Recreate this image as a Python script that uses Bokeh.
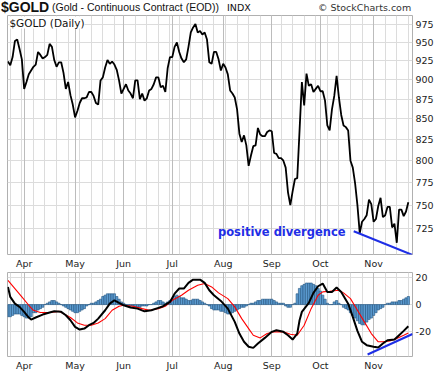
import numpy as np
import pandas as pd
from pandas.tseries.offsets import CustomBusinessDay
from bokeh.plotting import figure
from bokeh.models import Range1d, FixedTicker, Grid, Label, Div, PrintfTickFormatter
from bokeh.layouts import column
from bokeh.embed import file_html
from bokeh.resources import INLINE

# ---------------- data ----------------
close = [924, 919, 930, 952, 954, 941, 927, 888, 897, 907,
         912, 917, 920, 937, 933, 928, 930, 933, 948, 944,
         926, 917, 923, 923, 909, 888, 897, 880, 868, 852,
         860, 870, 876, 876, 877, 884, 884, 879, 870, 868,
         899, 903, 916, 926, 921, 924, 920, 913, 899, 882,
         888, 894, 886, 882, 876, 899, 899, 875, 882, 873,
         876, 886, 888, 894, 903, 903, 890, 892, 884, 915,
         930, 930, 944, 950, 937, 928, 923, 927, 944, 964,
         971, 976, 964, 966, 961, 964, 954, 923, 921, 937,
         937, 927, 912, 921, 916, 907, 886, 882, 877, 862,
         832, 822, 830, 818, 794, 806, 817, 818, 839, 831,
         829, 829, 834, 836, 835, 809, 808, 803, 803, 800,
         792, 764, 750, 765, 779, 780, 836, 897, 867, 908,
         892, 894, 884, 888, 892, 885, 885, 873, 842, 836,
         862, 879, 905, 877, 855, 842, 840, 836, 800, 792,
         774, 750, 720, 732, 735, 739, 756, 751, 732, 735,
         749, 758, 737, 739, 748, 748, 726, 730, 710, 745,
         745, 738, 743, 753]

macd_day = [0, 1, 3, 5, 7, 9, 10, 12, 15, 18,
            20, 23, 25, 27, 29, 31, 33, 35, 37, 39,
            42, 44, 46, 48, 50, 53, 56, 59, 62, 65,
            67, 70, 72, 74, 76, 78, 80, 83, 85, 87,
            89, 92, 95, 98, 100, 102, 104, 106, 108, 111,
            114, 116, 119, 121, 123, 125, 126, 127, 130, 132,
            134, 136, 138, 140, 142, 144, 147, 149, 151, 153,
            155, 158, 160, 162, 164, 167, 169, 171, 173]
macd = [13.1, 5.7, 0.7, -1.7, -5.4, -9.6, -11.1, -9.6, -7.4, -5.9,
        -5.0, -5.4, -7.9, -11.6, -16.5, -18.5, -17.8, -15.3, -13.6, -10.4,
        -4.2, 0.7, 3.2, 1.3, -0.5, -2.2, -3.0, -5.0, -4.2, -2.4,
        -1.2, 2.0, 8.1, 11.9, 11.9, 16.1, 18.5, 18.5, 16.1, 10.6,
        6.9, 2.7, -3.0, -12.8, -21.5, -27.6, -31.3, -32.1, -28.9, -24.7,
        -20.2, -19.0, -20.2, -22.7, -25.9, -21.5, -11.6, -5.4, 1.3, 8.7,
        13.6, 15.6, 9.4, 9.4, 12.6, 9.4, 0.7, -9.1, -19.5, -27.6,
        -30.1, -31.3, -31.9, -28.9, -26.4, -25.9, -22.7, -19.5, -16.1]

signal_day = [0, 3, 6, 9, 11, 14, 18, 22, 24, 27,
              30, 33, 36, 39, 42, 45, 48, 50, 54, 58,
              61, 65, 68, 71, 75, 78, 82, 85, 88, 91,
              95, 98, 101, 104, 106, 109, 112, 115, 119, 122,
              125, 128, 131, 134, 136, 139, 143, 145, 148, 151,
              154, 157, 160, 162, 165, 168, 171, 173]
signal = [18.0, 11.9, 5.7, -0.5, -4.2, -5.9, -5.9, -5.0, -6.7, -9.6,
          -13.6, -15.3, -15.3, -13.6, -10.4, -4.2, -1.2, -0.5, -1.2, -3.0,
          -4.2, -3.0, -1.2, 3.2, 6.9, 10.6, 14.3, 15.6, 13.1, 8.7,
          4.4, -1.7, -10.4, -17.8, -22.7, -24.7, -21.5, -20.2, -20.2, -22.0,
          -22.7, -15.3, -3.0, 6.9, 9.4, 9.9, 10.6, 8.7, 4.4, -4.2,
          -12.8, -21.5, -27.6, -27.6, -26.9, -25.2, -22.7, -21.0]

hist = [-9, -9, -8, -7, -7, -7, -8, -9, -10, -10,
        -9, -6, -6, -4, -3, -2, 0, 1, 2, 3,
        3, 2, 1, 0, -1, -2, -3, -4, -5, -6,
        -6, -5, -4, -3, -1, 0, 1, 1, 2, 3,
        4, 6, 7, 8, 8, 8, 8, 6, 4, 2,
        1, 0, -1, -1, -1, -2, -2, -2, -1, -1,
        -1, 0, 0, 1, 2, 3, 3, 2, 1, 2,
        3, 4, 6, 7, 6, 5, 5, 4, 3, 3,
        4, 4, 4, 3, 2, 1, 0, -1, -3, -4,
        -4, -4, -5, -5, -6, -7, -7, -6, -5, -4,
        -3, -2, -2, -1, 0, 1, 1, 2, 3, 3,
        4, 4, 4, 4, 4, 3, 2, 1, 1, 1,
        -1, -2, -2, 0, 1, 8, 12, 14, 15, 16,
        16, 16, 15, 14, 12, 10, 7, 4, 1, 0,
        0, 2, 3, 1, 0, -2, -3, -4, -6, -8,
        -10, -12, -14, -15, -15, -13, -11, -10, -8, -6,
        -4, -3, -2, 0, 1, 1, 2, 2, 2, 3,
        3, 4, 5, 6]

price_div_day = [149.4, 174.8]
price_div = [722, 697.5]
macd_div_day = [155.4, 174.8]
macd_div = [-37.0, -21.8]

price_ticks = [725, 750, 775, 800, 825, 850, 875, 900, 925, 950, 975]
macd_ticks = [-20, 0, 20]
month_labels = ["Apr", "May", "Jun", "Jul", "Aug", "Sep", "Oct", "Nov"]
holidays = ["2008-03-21", "2008-05-26", "2008-07-04", "2008-09-01"]

# ---------------- calendar -> tick positions ----------------
dates = pd.date_range("2008-03-20", periods=len(close),
                      freq=CustomBusinessDay(holidays=holidays))
day = np.arange(len(close))
month_pos = [i for i in range(1, len(dates)) if dates[i].month != dates[i - 1].month]
week_pos = [i for i in range(1, len(dates)) if dates[i].weekday() < dates[i - 1].weekday()]
month_over = {int(p): lab for p, lab in zip(month_pos, month_labels)}

FW = 405
FONT = "DejaVu Sans"
GRID_LIGHT = "#dcdcdc"
GRID_DARK = "#bcbcbc"
BLUE = "#1e2ee6"

xr = Range1d(-0.2, 174.8)


def style(p, yticks):
    p.xaxis.ticker = FixedTicker(ticks=month_pos)
    p.xaxis.major_label_overrides = month_over
    for ax in (p.xaxis[0], p.yaxis[0]):
        ax.axis_line_color = None
        ax.major_tick_line_color = None
        ax.minor_tick_line_color = None
        ax.major_tick_out = 0
        ax.major_tick_in = 0
        ax.minor_tick_out = 0
        ax.minor_tick_in = 0
        ax.major_label_text_font = FONT
        ax.major_label_text_font_size = "9.5px"
        ax.major_label_text_color = "#222222"
        ax.major_label_standoff = 3
    p.yaxis.ticker = FixedTicker(ticks=yticks)
    p.yaxis.formatter = PrintfTickFormatter(format="%d")
    p.ygrid.ticker = FixedTicker(ticks=yticks)
    p.ygrid.grid_line_color = GRID_LIGHT
    p.xgrid.ticker = FixedTicker(ticks=week_pos)
    p.xgrid.grid_line_color = GRID_LIGHT
    p.add_layout(Grid(dimension=0, ticker=FixedTicker(ticks=month_pos),
                      grid_line_color=GRID_DARK))
    p.outline_line_color = "#b0b0b0"


# ---------------- title ----------------
title = Div(text=(
    "<div style='position:relative;width:430px;height:15px;white-space:nowrap;color:#111;line-height:15px;'>"
    "<span style=\"position:absolute;left:1px;top:0px;font:bold 14px/15px 'Liberation Sans';\">$GOLD</span>"
    "<span style=\"position:absolute;left:52px;top:0px;font:10.5px/15px 'Liberation Sans';\">(Gold - Continuous Contract (EOD))</span>"
    "<span style=\"position:absolute;left:227px;top:0px;font:9.5px/15px 'DejaVu Sans';\">INDX</span>"
    "<span style=\"position:absolute;left:318px;top:0px;font:9.5px/15px 'DejaVu Sans';color:#333;\">&copy; StockCharts.com</span>"
    "</div>"), width=430, height=15, margin=(0, 0, 0, 0))

# ---------------- price panel ----------------
p1 = figure(frame_width=FW, frame_height=239, x_range=xr,
            y_range=Range1d(698, 988), y_axis_type="log", y_axis_location="right",
            output_backend="svg", toolbar_location=None,
            min_border_left=7, min_border_right=0, min_border_top=0, min_border_bottom=0)
style(p1, price_ticks)
p1.line(day, close, line_color="black", line_width=1.8)
p1.line(price_div_day, price_div, line_color=BLUE, line_width=2)
p1.add_layout(Label(x=0.2, y=988, text="$GOLD (Daily)", text_baseline="top",
                    text_font=FONT, text_font_size="10.5px", text_color="#111111",
                    x_offset=1, y_offset=-1,
                    background_fill_color="white", background_fill_alpha=1.0))
p1.add_layout(Label(x=145.9, y=721, text="positive divergence", text_align="right",
                    text_baseline="middle", text_font=FONT, text_font_size="11.5px",
                    text_font_style="bold", text_color=BLUE))

# ---------------- indicator panel ----------------
p2 = figure(frame_width=FW, frame_height=84, x_range=xr,
            y_range=Range1d(-38.5, 23.8), y_axis_location="right",
            output_backend="svg", toolbar_location=None,
            min_border_left=7, min_border_right=0, min_border_top=1, min_border_bottom=2)
style(p2, macd_ticks)
p2.vbar(x=day, top=hist, bottom=0, width=1.0, fill_color="#5b9bd0",
        line_color="#22527e", line_width=0.6)
p2.line(signal_day, signal, line_color="#ff0000", line_width=1.1)
p2.line(macd_day, macd, line_color="black", line_width=2)
p2.line(macd_div_day, macd_div, line_color=BLUE, line_width=2)

layout = column(title, p1, p2, spacing=0)
open("out.html", "w").write(file_html(layout, INLINE))
